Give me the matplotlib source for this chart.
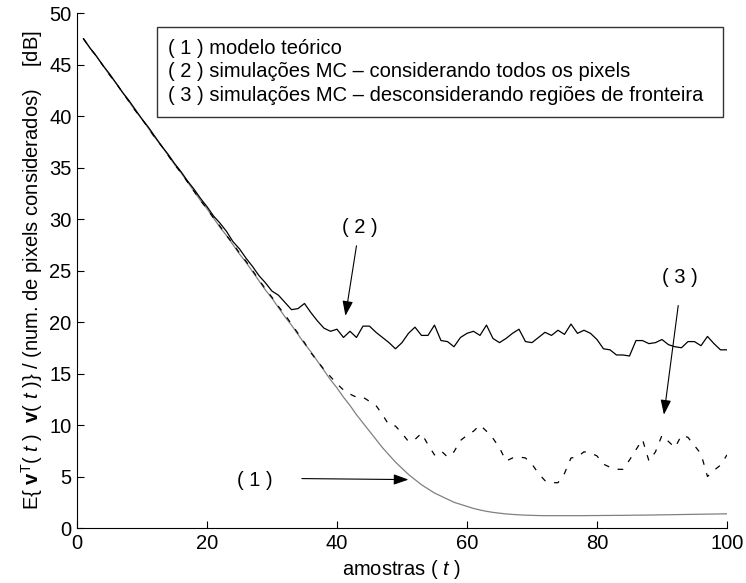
import numpy as np
import matplotlib
matplotlib.use("Agg")
import matplotlib.pyplot as plt
from matplotlib.patches import Rectangle

# amostras (t = 1..100)
t = np.arange(1, 101)

# ( 1 ) modelo teorico
teorico = [47.5, 46.6, 45.8, 44.9, 44.0, 43.2, 42.3, 41.4, 40.5, 39.7,
           38.8, 37.9, 37.1, 36.2, 35.3, 34.5, 33.6, 32.7, 31.8, 31.0,
           30.1, 29.2, 28.4, 27.5, 26.6, 25.8, 24.9, 24.0, 23.1, 22.3,
           21.4, 20.5, 19.7, 18.8, 17.9, 17.1, 16.2, 15.3, 14.4, 13.6,
           12.7, 11.9, 11.0, 10.2, 9.4, 8.6, 7.8, 7.1, 6.4, 5.8,
           5.2, 4.7, 4.2, 3.8, 3.4, 3.1, 2.8, 2.5, 2.3, 2.1,
           1.9, 1.75, 1.62, 1.52, 1.44, 1.37, 1.32, 1.28, 1.25, 1.23,
           1.21, 1.2, 1.2, 1.2, 1.2, 1.2, 1.2, 1.2, 1.21, 1.21,
           1.22, 1.22, 1.23, 1.23, 1.24, 1.25, 1.25, 1.26, 1.27, 1.28,
           1.29, 1.3, 1.31, 1.32, 1.33, 1.34, 1.35, 1.36, 1.37, 1.38]

# ( 2 ) simulacoes MC - todos os pixels
mc_todos = [47.5, 46.6, 45.8, 44.9, 44.1, 43.2, 42.3, 41.5, 40.6, 39.7,
            38.9, 38.0, 37.1, 36.3, 35.4, 34.6, 33.7, 32.9, 32.0, 31.2,
            30.3, 29.6, 28.8, 27.8, 27.1, 26.2, 25.4, 24.5, 23.8, 23.0,
            22.6, 21.9, 21.2, 21.3, 21.8, 20.9, 20.1, 19.4, 19.1, 19.3,
            18.5, 19.1, 18.5, 19.6, 19.6, 19.0, 18.5, 18.0, 17.4, 18.0,
            18.9, 19.5, 18.7, 18.7, 19.7, 18.2, 18.1, 17.6, 18.5, 18.9,
            19.1, 18.7, 19.7, 18.4, 18.0, 18.4, 18.9, 19.3, 18.1, 18.0,
            18.5, 19.0, 18.7, 19.2, 18.8, 19.8, 18.9, 19.2, 18.9, 18.3,
            17.4, 17.3, 16.8, 16.8, 16.7, 18.2, 18.2, 17.9, 18.0, 18.3,
            17.8, 17.6, 17.5, 18.1, 18.1, 17.7, 18.6, 17.9, 17.3, 17.3]

# ( 3 ) simulacoes MC - sem regioes de fronteira
mc_sem_fronteira = [47.5, 46.6, 45.8, 44.9, 44.0, 43.2, 42.3, 41.4, 40.5, 39.7,
                    38.8, 37.9, 37.1, 36.2, 35.3, 34.5, 33.6, 32.7, 31.8, 31.0,
                    30.1, 29.3, 28.4, 27.6, 26.7, 25.9, 25.0, 24.1, 23.2, 22.4,
                    21.5, 20.7, 19.8, 18.9, 18.0, 17.0, 16.2, 15.4, 14.7, 14.0,
                    13.4, 13.0, 12.7, 12.7, 12.3, 11.9, 11.0, 10.0, 9.9, 9.2,
                    8.4, 8.6, 9.2, 8.1, 7.1, 7.5, 6.9, 7.4, 8.5, 9.0,
                    9.4, 10.0, 9.4, 8.7, 7.8, 6.5, 6.8, 6.9, 6.8, 6.2,
                    5.3, 4.6, 4.4, 4.4, 5.3, 6.8, 6.9, 7.4, 7.3, 7.0,
                    6.2, 5.9, 5.7, 5.7, 6.6, 7.6, 8.6, 6.5, 7.4, 9.0,
                    8.4, 7.8, 9.0, 8.8, 8.0, 7.2, 5.0, 5.6, 6.1, 7.1]

legenda = ['( 1 ) modelo teórico',
           '( 2 ) simulações MC \u2013 considerando todos os pixels',
           '( 3 ) simulações MC \u2013 desconsiderando regiões de fronteira']

plt.rcParams['font.family'] = ['Liberation Sans', 'DejaVu Sans']
plt.rcParams['font.size'] = 14.5
plt.rcParams['mathtext.fontset'] = 'custom'
plt.rcParams['mathtext.rm'] = 'Liberation Sans'
plt.rcParams['mathtext.it'] = 'Liberation Sans:italic'
plt.rcParams['mathtext.bf'] = 'Liberation Sans:bold'

fig = plt.figure(figsize=(7.46, 5.83), dpi=100)
ax = fig.add_axes([0.1032, 0.0943, 0.8713, 0.8834])

ax.plot(t, teorico, color='#808080', linewidth=0.9)
ax.plot(t, mc_sem_fronteira, color='black', linewidth=0.9, dashes=(4.5, 7))
ax.plot(t, mc_todos, color='black', linewidth=0.9)

ax.set_xlim(0, 100)
ax.set_ylim(0, 50)
ax.set_xticks([0, 20, 40, 60, 80, 100])
ax.set_yticks(np.arange(0, 51, 5))

# estilo matlab: box off, ticks para dentro
ax.spines['top'].set_visible(False)
ax.spines['right'].set_visible(False)
ax.spines['left'].set_linewidth(0.8)
ax.spines['bottom'].set_linewidth(0.8)
ax.tick_params(direction='in', length=5, width=0.8, pad=4)

ax.set_xlabel('amostras ( $t$ )', labelpad=4)
ax.set_ylabel(r'E{ $\mathbf{v}^{\mathrm{T}}$( $t$ )  $\mathbf{v}$( $t$ )} / (num. de pixels considerados)    [dB]',
              labelpad=3)

# caixa de legenda (so texto)
ax.add_patch(Rectangle((0.123, 0.798), 0.871, 0.175, transform=ax.transAxes,
                       facecolor='white', edgecolor='#333333', linewidth=1.0, zorder=5))
for i, txt in enumerate(legenda):
    ax.text(0.14, 0.932 - i * 0.046, txt, transform=ax.transAxes,
            va='center', ha='left', zorder=6)

# setas
seta = dict(arrowstyle='-|>,head_length=0.45,head_width=0.16', color='black', lw=0.8,
            mutation_scale=20, shrinkA=0, shrinkB=0)
ax.annotate('', xy=(41.3, 20.6), xytext=(43.0, 27.4), arrowprops=seta)
ax.text(43.5, 29.2, '( 2 )', ha='center', va='center')
ax.annotate('', xy=(90.3, 11.0), xytext=(92.5, 21.6), arrowprops=seta)
ax.text(92.8, 24.3, '( 3 )', ha='center', va='center')
ax.annotate('', xy=(51.0, 4.7), xytext=(34.6, 4.8), arrowprops=seta)
ax.text(27.4, 4.6, '( 1 )', ha='center', va='center')

plt.savefig('out.png', dpi=100)
plt.close()
